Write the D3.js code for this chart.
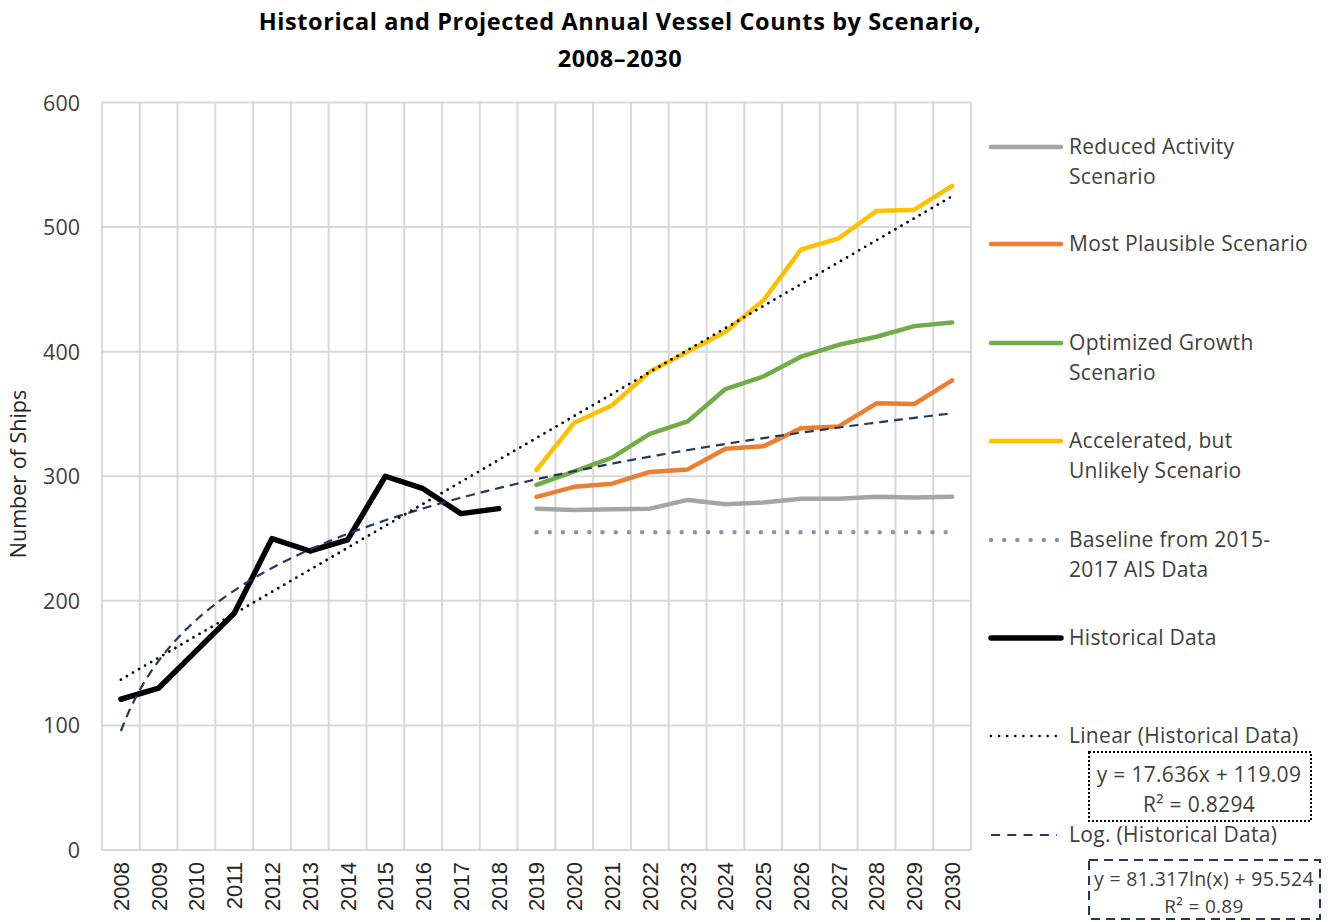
<!DOCTYPE html>
<html>
<head>
<meta charset="utf-8">
<script src="https://cdn.jsdelivr.net/npm/d3@7/dist/d3.min.js"></script>
<style>
  html, body { margin: 0; padding: 0; background: #fff; }
  svg { display: block; }
</style>
</head>
<body>
<svg id="chart" width="1330" height="922"></svg>
<script>
// Years on the category axis
const years = d3.range(2008, 2031).map(String);
const histYears = years.slice(0, 11);   // 2008–2018
const projYears = years.slice(11);      // 2019–2030

// Observed vessel counts
const historical = [121, 130, 160, 190, 250, 240, 249, 300, 290, 270, 274];

// Projected scenarios, 2019–2030
const reducedActivity = [274, 273, 273.5, 274, 281, 277.5, 279, 282, 282, 283.5, 283, 283.5];
const mostPlausible   = [283.5, 291.5, 294, 303.5, 305.5, 322, 324, 338.5, 340, 358.5, 358, 377];
const optimizedGrowth = [293, 304, 315, 334, 344, 370, 380, 396, 405.5, 412, 420.5, 423.5];
const accelerated     = [305, 343, 357, 384, 400, 416, 441, 482, 491, 513, 514, 533];
const baseline        = [255, 255, 255, 255, 255, 255, 255, 255, 255, 255, 255, 255];

// Trendline coefficients (x = 1 for 2008)
const linearFit = { slope: 17.636, intercept: 119.09, r2: "0.8294" };
const logFit    = { coef: 81.317, intercept: 95.524, r2: "0.89" };

const yTicks = [0, 100, 200, 300, 400, 500, 600];

const svg = d3.select("#chart");

const plot = { left: 102, right: 971, top: 102.5, bottom: 850 };

const x = d3.scaleBand().domain(years).range([plot.left, plot.right]).padding(0);
const xc = yr => x(yr) + x.bandwidth() / 2;
// continuous position for trendlines: index 1 sits on the 2008 category centre
const xt = d3.scaleLinear().domain([0.5, years.length + 0.5]).range([plot.left, plot.right]);
const y = d3.scaleLinear().domain([0, 600]).range([plot.bottom, plot.top]);

const gridColor = "#d9d9d9";
const textColor = "#404040";
const uiFont = "'Open Sans', Lato, sans-serif";

// Horizontal gridlines
svg.append("g")
  .selectAll("line")
  .data(yTicks)
  .join("line")
  .attr("x1", plot.left).attr("x2", plot.right)
  .attr("y1", d => y(d)).attr("y2", d => y(d))
  .attr("stroke", gridColor).attr("stroke-width", 2);

// Vertical gridlines on category boundaries
const bounds = years.map(yr => x(yr)).concat([plot.right]);
svg.append("g")
  .selectAll("line")
  .data(bounds)
  .join("line")
  .attr("x1", d => d).attr("x2", d => d)
  .attr("y1", plot.top).attr("y2", plot.bottom)
  .attr("stroke", gridColor).attr("stroke-width", 2);

// Y axis labels
const yAxis = d3.axisLeft(y).tickValues(yTicks).tickSize(0).tickPadding(0);
const gy = svg.append("g")
  .attr("transform", `translate(${80},0)`)
  .call(yAxis);
gy.select(".domain").remove();
gy.selectAll("text")
  .attr("font-family", uiFont)
  .attr("font-size", 21.5)
  .attr("fill", textColor)
  .attr("dy", "0.35em");

// X axis labels, rotated
const xAxis = d3.axisBottom(x).tickSize(0).tickPadding(0);
const gx = svg.append("g")
  .attr("transform", `translate(0,${plot.bottom})`)
  .call(xAxis);
gx.select(".domain").remove();
gx.selectAll("text")
  .attr("font-family", "'Liberation Sans', Arial, sans-serif")
  .attr("font-size", 22)
  .attr("fill", "#262626")
  .attr("text-anchor", "end")
  .attr("transform", "translate(0,12) rotate(-90)")
  .attr("x", 0).attr("y", 0)
  .attr("dy", "0.36em");

// Y axis title
svg.append("text")
  .attr("transform", `translate(26,${474}) rotate(-90)`)
  .attr("text-anchor", "middle")
  .attr("font-family", uiFont)
  .attr("font-size", 21.5)
  .attr("fill", "#262626")
  .text("Number of Ships");

// Title
const title = svg.append("text")
  .attr("text-anchor", "middle")
  .attr("font-family", uiFont)
  .attr("font-weight", "bold")
  .attr("font-size", 23.5)
  .attr("letter-spacing", 0.6)
  .attr("fill", "#000");
title.append("tspan").attr("x", 620).attr("y", 30).text("Historical and Projected Annual Vessel Counts by Scenario,");
title.append("tspan").attr("x", 620).attr("y", 67).text("2008–2030");

// Series definitions
const line = d3.line().x(d => xc(d.year)).y(d => y(d.value));
const zip = (ys, vs) => ys.map((yr, i) => ({ year: yr, value: vs[i] }));

const series = [
  { name: ["Reduced Activity", "Scenario"], data: zip(projYears, reducedActivity), color: "#a5a5a5", width: 4.5, dash: null, ly: 147 },
  { name: ["Most Plausible Scenario"], data: zip(projYears, mostPlausible), color: "#ed7d31", width: 4.5, dash: null, ly: 244 },
  { name: ["Optimized Growth", "Scenario"], data: zip(projYears, optimizedGrowth), color: "#70ad47", width: 4.5, dash: null, ly: 343 },
  { name: ["Accelerated, but", "Unlikely Scenario"], data: zip(projYears, accelerated), color: "#ffc000", width: 4.5, dash: null, ly: 441 },
  { name: ["Baseline from 2015-", "2017 AIS Data"], data: zip(projYears, baseline), color: "#8497b0", width: 4.5, dash: "0 13.2", ly: 540 },
  { name: ["Historical Data"], data: zip(histYears, historical), color: "#000000", width: 5.5, dash: null, ly: 638 }
];

const gSeries = svg.append("g").attr("fill", "none");
series.forEach(s => {
  gSeries.append("path")
    .datum(s.data)
    .attr("d", line)
    .attr("stroke", s.color)
    .attr("stroke-width", s.width)
    .attr("stroke-linejoin", "round")
    .attr("stroke-linecap", "round")
    .attr("stroke-dasharray", s.dash);
});

// Trendlines fitted to the historical series, extended to 2030
const tIdx = d3.range(1, years.length + 0.001, 0.1);
const trendLine = d3.line().x(d => xt(d.t)).y(d => y(d.v));
const linearPts = [1, years.length].map(t => ({ t, v: linearFit.slope * t + linearFit.intercept }));
const logPts = tIdx.map(t => ({ t, v: logFit.coef * Math.log(t) + logFit.intercept }));

gSeries.append("path")
  .datum(logPts)
  .attr("d", trendLine)
  .attr("stroke", "#203864")
  .attr("stroke-width", 2.2)
  .attr("stroke-dasharray", "9 6");

gSeries.append("path")
  .datum(linearPts)
  .attr("d", trendLine)
  .attr("stroke", "#000")
  .attr("stroke-width", 2.8)
  .attr("stroke-linecap", "round")
  .attr("stroke-dasharray", "0 7");

// Legend
const legend = svg.append("g")
  .attr("font-family", uiFont)
  .attr("font-size", 21)
  .attr("letter-spacing", 0.3)
  .attr("fill", textColor);

const lx0 = 991, lx1 = 1061, tx = 1069, lineGap = 30;

series.forEach(s => {
  legend.append("line")
    .attr("x1", lx0).attr("x2", lx1)
    .attr("y1", s.ly).attr("y2", s.ly)
    .attr("stroke", s.color)
    .attr("stroke-width", s.width)
    .attr("stroke-linecap", "round")
    .attr("stroke-dasharray", s.dash);
  s.name.forEach((txt, i) => {
    legend.append("text")
      .attr("x", tx).attr("y", s.ly + i * lineGap)
      .attr("dy", "0.35em")
      .text(txt);
  });
});

// Linear trend legend entry and equation box
legend.append("line")
  .attr("x1", lx0).attr("x2", 1056).attr("y1", 736).attr("y2", 736)
  .attr("stroke", "#000").attr("stroke-width", 2.6)
  .attr("stroke-linecap", "round").attr("stroke-dasharray", "0 8.1");
legend.append("text").attr("x", tx).attr("y", 736).attr("dy", "0.35em").text("Linear (Historical Data)");

legend.append("rect")
  .attr("x", 1089).attr("y", 752).attr("width", 222).attr("height", 69)
  .attr("fill", "none").attr("stroke", "#000").attr("stroke-width", 2)
  .attr("stroke-dasharray", "2 2");
legend.append("text").attr("x", 1199).attr("y", 775).attr("dy", "0.35em").attr("text-anchor", "middle")
  .text(`y = ${linearFit.slope}x + ${linearFit.intercept}`);
legend.append("text").attr("x", 1199).attr("y", 805).attr("dy", "0.35em").attr("text-anchor", "middle")
  .text(`R² = ${linearFit.r2}`);

// Log trend legend entry and equation box
legend.append("line")
  .attr("x1", lx0).attr("x2", 1057).attr("y1", 835).attr("y2", 835)
  .attr("stroke", "#203864").attr("stroke-width", 2.2)
  .attr("stroke-dasharray", "9 7.3");
legend.append("text").attr("x", tx).attr("y", 835).attr("dy", "0.35em").text("Log. (Historical Data)");

legend.append("rect")
  .attr("x", 1089).attr("y", 860).attr("width", 231).attr("height", 59)
  .attr("fill", "none").attr("stroke", "#203864").attr("stroke-width", 2)
  .attr("stroke-dasharray", "9 6");
legend.append("text").attr("x", 1204).attr("y", 879).attr("dy", "0.35em").attr("text-anchor", "middle")
  .attr("font-size", 19.5)
  .text(`y = ${logFit.coef}ln(x) + ${logFit.intercept}`);
legend.append("text").attr("x", 1204).attr("y", 906).attr("dy", "0.35em").attr("text-anchor", "middle")
  .attr("font-size", 19)
  .text(`R² = ${logFit.r2}`);
</script>
</body>
</html>
